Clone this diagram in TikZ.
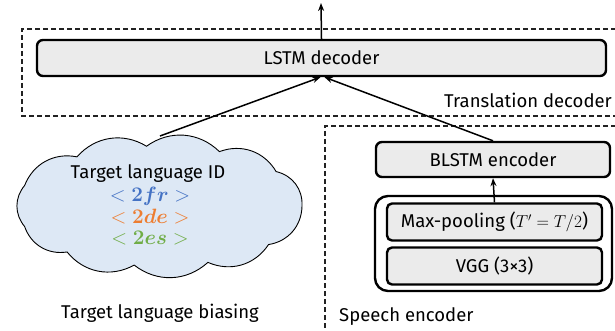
\documentclass[tikz,border=0pt]{standalone}
\usepackage[no-math]{fontspec}
\setmainfont{Fira Sans}
\usepackage{amsmath,bm}
\usetikzlibrary{arrows.meta}
\definecolor{boxfill}{HTML}{EBEBEB}
\definecolor{cloudfill}{HTML}{DDE8F5}
\definecolor{tokblue}{HTML}{4472C4}
\definecolor{tokorange}{HTML}{ED7D31}
\definecolor{tokgreen}{HTML}{70AD47}
\definecolor{dashgray}{HTML}{222222}
\tikzset{
  x=1pt, y=-1pt,
  every node/.style={font=\fontsize{18.5}{22}\selectfont},
  blockbox/.style={draw, line width=2.4pt, fill=boxfill, rounded corners=6pt, inner sep=0pt},
  groupbox/.style={draw, line width=2.4pt, rounded corners=13pt, inner sep=0pt},
  dashbox/.style={draw=dashgray, line width=1.1pt, dash pattern=on 5pt off 3pt},
  flow/.style={line width=1.5pt, -{Stealth[length=8pt,width=6pt]}},
  label/.style={inner sep=0pt},
  token/.style={inner sep=0pt, font=\fontsize{20}{22}\selectfont},
  cloudline/.style={draw, line width=0.9pt, fill=cloudfill},
  puff/.style={bend left=40},
}
\begin{document}
\begin{tikzpicture}
\useasboundingbox (0,0) rectangle (615,331);
\clip (0,0) rectangle (615,331);
% dashed group boxes
\draw[dashbox] (640,29) -- (22,29) -- (22,116) -- (640,116);
\draw[dashbox] (640,126) -- (325,126) -- (325,345);
% translation decoder
\node[blockbox, minimum width=569pt, minimum height=36pt] (lstm) at (321.5,58) {LSTM decoder};
\node[label, anchor=east] (tdlab) at (612,100) {Translation decoder};
\coordinate (out) at (321,3);
% speech encoder
\node[blockbox, minimum width=234pt, minimum height=35pt] (blstm) at (493,159.5) {BLSTM encoder};
\node[groupbox, minimum width=237pt, minimum height=95pt] (outer) at (493.5,243.5) {};
\node[blockbox, rounded corners=5pt, minimum width=215pt, minimum height=37pt] (pool) at (494.5,222) {Max-pooling ($T' = T/2$)};
\node[blockbox, rounded corners=5pt, minimum width=215pt, minimum height=37pt] (vgg) at (494.5,266) {VGG (3×3)};
\node[label, anchor=west] (selab) at (339,317) {Speech encoder};
% target language biasing: cloud
\foreach \a [count=\i] in {0,40,70,100,130,160,200,235,265,295,325}
  \coordinate (cp\i) at ({159+143*cos(\a)},{206+60*sin(\a)});
\path[cloudline] (cp1) to[puff] (cp2) to[puff] (cp3) to[puff] (cp4)
  to[puff] (cp5) to[puff] (cp6) to[puff] (cp7) to[puff] (cp8)
  to[puff] (cp9) to[puff] (cp10) to[puff] (cp11) to[puff] (cp1) -- cycle;
\node[label] (idtxt) at (148,174) {Target language ID};
\node[token, text=tokblue] (fr) at (150,196) {$<\bm{2fr}>$};
\node[token, text=tokorange] (de) at (150,217) {$<\bm{2de}>$};
\node[token, text=tokgreen] (es) at (150,238) {$<\bm{2es}>$};
\node[label] (tlab) at (160,313) {Target language biasing};
% connectors
\coordinate (cloudtop) at (160,136);
\draw[flow] (lstm.north) -- (out);
\draw[flow] (cloudtop) -- ([xshift=-1pt]lstm.south);
\draw[flow] (blstm.north) -- ([xshift=3pt]lstm.south);
\draw[flow] (pool.north) -- (blstm.south);
\end{tikzpicture}
\end{document}
